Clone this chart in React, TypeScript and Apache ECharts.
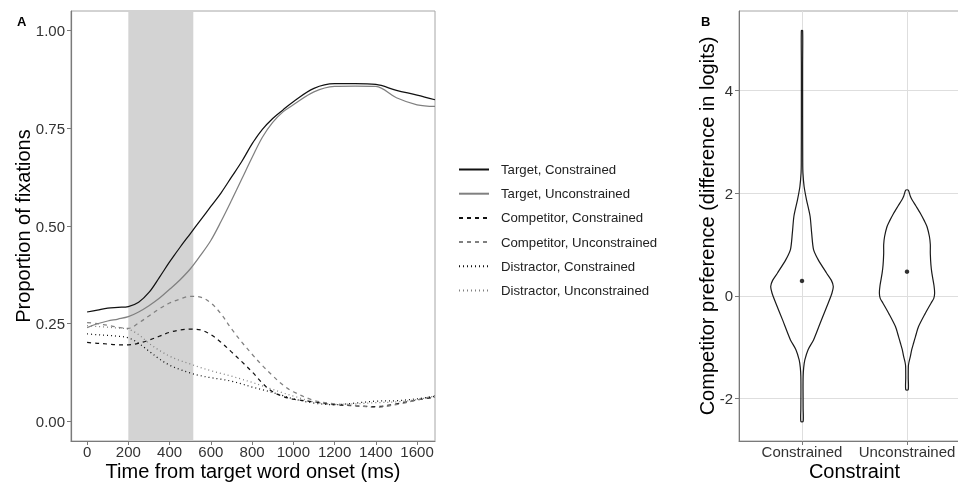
import React, { useEffect, useRef } from 'react';
import * as echarts from 'echarts';

// ---------- Panel A data ----------
const timeMs = [0, 50, 100, 150, 200, 250, 300, 350, 400, 450, 500, 550, 600, 650, 700, 750, 800, 850, 900, 950, 1000, 1100, 1200, 1300, 1400, 1500, 1600, 1687];
const targetConstrained = [0.28, 0.285, 0.29, 0.292, 0.294, 0.305, 0.33, 0.368, 0.408, 0.445, 0.48, 0.515, 0.55, 0.585, 0.625, 0.665, 0.71, 0.747, 0.775, 0.797, 0.818, 0.852, 0.864, 0.864, 0.862, 0.847, 0.835, 0.823];
const targetUnconstrained = [0.24, 0.25, 0.257, 0.262, 0.268, 0.28, 0.296, 0.315, 0.338, 0.362, 0.39, 0.425, 0.463, 0.512, 0.565, 0.62, 0.675, 0.727, 0.765, 0.792, 0.81, 0.843, 0.857, 0.858, 0.857, 0.828, 0.81, 0.806];
const competitorConstrained = [0.202, 0.2, 0.198, 0.196, 0.196, 0.2, 0.208, 0.218, 0.228, 0.234, 0.236, 0.234, 0.222, 0.202, 0.178, 0.153, 0.127, 0.098, 0.076, 0.064, 0.057, 0.05, 0.043, 0.04, 0.038, 0.045, 0.055, 0.062];
const competitorUnconstrained = [0.253, 0.25, 0.246, 0.241, 0.238, 0.252, 0.27, 0.288, 0.303, 0.313, 0.32, 0.318, 0.303, 0.275, 0.237, 0.203, 0.172, 0.143, 0.117, 0.093, 0.076, 0.054, 0.045, 0.041, 0.036, 0.043, 0.055, 0.066];
const distractorConstrained = [0.224, 0.222, 0.22, 0.218, 0.214, 0.2, 0.18, 0.16, 0.144, 0.133, 0.124, 0.117, 0.112, 0.108, 0.103, 0.096, 0.088, 0.081, 0.074, 0.066, 0.058, 0.047, 0.043, 0.047, 0.052, 0.053, 0.058, 0.064];
const distractorUnconstrained = [0.245, 0.243, 0.241, 0.239, 0.236, 0.222, 0.2, 0.182, 0.167, 0.156, 0.147, 0.138, 0.13, 0.123, 0.116, 0.108, 0.1, 0.091, 0.082, 0.073, 0.065, 0.05, 0.044, 0.045, 0.048, 0.05, 0.056, 0.065];
const seriesNames = ['Target, Constrained', 'Target, Unconstrained', 'Competitor, Constrained', 'Competitor, Unconstrained', 'Distractor, Constrained', 'Distractor, Unconstrained'];
const shadeRange = [200, 515];
const xTicksA = [0, 200, 400, 600, 800, 1000, 1200, 1400, 1600];
const yTicksA = [0, 0.25, 0.5, 0.75, 1];

// ---------- Panel B data ----------
const categories = ['Constrained', 'Unconstrained'];
const constrainedY = [-2.45, -2.2, -1.8, -1.57, -1.4, -1.25, -1.05, -0.86, -0.47, -0.14, 0.05, 0.18, 0.3, 0.44, 0.7, 0.9, 1.22, 1.55, 1.87, 2.13, 2.39, 2.6, 3.5, 4.5, 5.17];
const constrainedHalfWidth = [0.011, 0.011, 0.01, 0.011, 0.016, 0.027, 0.058, 0.11, 0.185, 0.25, 0.285, 0.298, 0.28, 0.235, 0.155, 0.11, 0.092, 0.077, 0.043, 0.02, 0.009, 0.007, 0.006, 0.006, 0.006];
const unconstrainedY = [-1.83, -1.6, -1.38, -1.3, -1.18, -1.05, -0.92, -0.8, -0.6, -0.34, -0.14, -0.05, 0.05, 0.2, 0.44, 0.6, 0.83, 1.0, 1.16, 1.35, 1.45, 1.61, 1.75, 1.87, 1.95, 2.06];
const unconstrainedHalfWidth = [0.012, 0.012, 0.013, 0.018, 0.032, 0.045, 0.063, 0.08, 0.11, 0.175, 0.23, 0.255, 0.263, 0.257, 0.237, 0.228, 0.222, 0.222, 0.213, 0.19, 0.168, 0.127, 0.085, 0.048, 0.03, 0.012];
const meanValues = [0.29, 0.47];
const yTicksB = [-2, 0, 2, 4];

const FONT = 'Liberation Sans, Arial, Helvetica, sans-serif';
const BLACK = '#111111';
const GREY = '#808080';

export default function App() {
  const ref = useRef<HTMLDivElement>(null);
  useEffect(() => {
    const chart = echarts.init(ref.current!, null, { renderer: 'svg' });
    const seriesValues = [targetConstrained, targetUnconstrained, competitorConstrained, competitorUnconstrained, distractorConstrained, distractorUnconstrained];
    const colors = [BLACK, GREY, BLACK, GREY, BLACK, GREY];
    const types: any[] = ['solid', 'solid', [4, 4], [4, 4], [1, 3], [1, 3]];
    const violinY = [constrainedY, unconstrainedY];
    const violinHW = [constrainedHalfWidth, unconstrainedHalfWidth];
    const axisGrey = '#7a7a7a';

    const lineSeries = seriesNames.map((name, k) => ({
      name,
      type: 'line',
      xAxisIndex: 0,
      yAxisIndex: 0,
      data: timeMs.map((t, i) => [t, seriesValues[k][i]]),
      smooth: 0.35,
      symbol: 'none',
      lineStyle: { color: colors[k], width: 1.25, type: types[k] },
      itemStyle: { color: colors[k] },
      z: 3,
      silent: true,
    }));

    const option: any = {
      animation: false,
      textStyle: { fontFamily: FONT },
      title: [
        { text: 'A', left: 12, top: 10, textStyle: { fontSize: 13, fontWeight: 'bold', color: '#000', fontFamily: FONT } },
        { text: 'B', left: 696, top: 10, textStyle: { fontSize: 13, fontWeight: 'bold', color: '#000', fontFamily: FONT } },
      ],
      legend: {
        orient: 'vertical',
        left: 458,
        top: 163,
        padding: 0,
        itemWidth: 30,
        itemHeight: 14,
        itemGap: 11.2,
        data: seriesNames,
        selectedMode: false,
        itemStyle: { opacity: 0, color: 'rgba(0,0,0,0)', borderColor: 'rgba(0,0,0,0)', borderWidth: 0 },
        textStyle: { fontSize: 13.2, color: '#222', fontFamily: FONT, padding: [0, 0, 0, 7] },
      },
      grid: [
        { left: 71, top: 11, width: 364, height: 430, show: true, borderColor: '#a6a6a6', borderWidth: 1, outerBoundsMode: 'none', containLabel: false },
        { left: 739, top: 11, width: 231, height: 430, show: true, borderColor: '#a6a6a6', borderWidth: 1, outerBoundsMode: 'none', containLabel: false },
      ],
      xAxis: [
        {
          type: 'value', gridIndex: 0, min: -78, max: 1687,
          axisLine: { show: true, onZero: false, lineStyle: { color: axisGrey, width: 1.2 } },
          axisTick: { show: true, customValues: xTicksA, length: 4, lineStyle: { color: axisGrey } },
          axisLabel: { customValues: xTicksA, fontSize: 15, color: '#333', margin: 3, fontFamily: FONT, formatter: (v: number) => String(v) },
          splitLine: { show: false },
          name: 'Time from target word onset (ms)', nameLocation: 'middle', nameGap: 20, nameMoveOverlap: false,
          nameTextStyle: { fontSize: 20, color: '#000', fontFamily: FONT },
        },
        {
          type: 'value', gridIndex: 1, min: -0.6, max: 1.6,
          axisLine: { show: true, onZero: false, lineStyle: { color: axisGrey, width: 1 } },
          axisTick: { show: true, customValues: [0, 1], length: 4, lineStyle: { color: axisGrey } },
          axisLabel: { customValues: [0, 1], fontSize: 15, color: '#333', margin: 3, fontFamily: FONT, formatter: (v: number) => categories[Math.round(v)] },
          splitLine: { show: true, lineStyle: { color: '#dedede', width: 1 } },
          name: 'Constraint', nameLocation: 'middle', nameGap: 20, nameMoveOverlap: false,
          nameTextStyle: { fontSize: 20, color: '#000', fontFamily: FONT },
        },
      ],
      yAxis: [
        {
          type: 'value', gridIndex: 0, min: -0.05, max: 1.05,
          axisLine: { show: true, onZero: false, lineStyle: { color: axisGrey, width: 1.2 } },
          axisTick: { show: true, customValues: yTicksA, length: 4, lineStyle: { color: axisGrey } },
          axisLabel: { customValues: yTicksA, fontSize: 15, color: '#333', margin: 6, fontFamily: FONT, formatter: (v: number) => v.toFixed(2) },
          splitLine: { show: false },
          name: 'Proportion of fixations', nameLocation: 'middle', nameGap: 38, nameMoveOverlap: false,
          nameTextStyle: { fontSize: 20, color: '#000', fontFamily: FONT },
        },
        {
          type: 'value', gridIndex: 1, min: -2.83, max: 5.55,
          axisLine: { show: true, onZero: false, lineStyle: { color: axisGrey, width: 1 } },
          axisTick: { show: true, customValues: yTicksB, length: 4, lineStyle: { color: axisGrey } },
          axisLabel: { customValues: yTicksB, fontSize: 15, color: '#333', margin: 6, fontFamily: FONT, formatter: (v: number) => String(v) },
          splitLine: { show: true, lineStyle: { color: '#dedede', width: 1 } },
          name: 'Competitor preference (difference in logits)', nameLocation: 'middle', nameGap: 22, nameMoveOverlap: false,
          nameTextStyle: { fontSize: 20, color: '#000', fontFamily: FONT },
        },
      ],
      series: [
        {
          type: 'custom',
          name: 'shade',
          xAxisIndex: 0,
          yAxisIndex: 0,
          silent: true,
          z: 1,
          data: [[shadeRange[0], shadeRange[1]]],
          renderItem: (params: any, api: any) => {
            const p0 = api.coord([api.value(0), 1.05]);
            const p1 = api.coord([api.value(1), -0.05]);
            return {
              type: 'rect',
              shape: { x: p0[0], y: p0[1], width: p1[0] - p0[0], height: p1[1] - p0[1] },
              style: { fill: '#d3d3d3' },
            };
          },
        },
        ...lineSeries,
        {
          type: 'custom',
          name: 'violin',
          xAxisIndex: 1,
          yAxisIndex: 1,
          silent: true,
          z: 3,
          data: [[0, 0], [1, 0]],
          renderItem: (params: any, api: any) => {
            const c = api.value(0);
            const ys = violinY[params.dataIndex];
            const hw = violinHW[params.dataIndex];
            const pts: number[][] = [];
            for (let i = 0; i < ys.length; i++) pts.push(api.coord([c - hw[i], ys[i]]));
            for (let i = ys.length - 1; i >= 0; i--) pts.push(api.coord([c + hw[i], ys[i]]));
            return {
              type: 'polygon',
              shape: { points: pts, smooth: 0.25 },
              style: { fill: 'none', stroke: '#1a1a1a', lineWidth: 1.2 },
            };
          },
        },
        {
          type: 'scatter',
          name: 'mean',
          xAxisIndex: 1,
          yAxisIndex: 1,
          silent: true,
          z: 4,
          symbolSize: 4.5,
          itemStyle: { color: '#000' },
          data: meanValues.map((m, i) => [i, m]),
        },
      ],
    };
    chart.setOption(option);
    return () => chart.dispose();
  }, []);
  return <div ref={ref} style={{ position: 'fixed', left: 0, top: 0, width: 958, height: 482 }} />;
}
